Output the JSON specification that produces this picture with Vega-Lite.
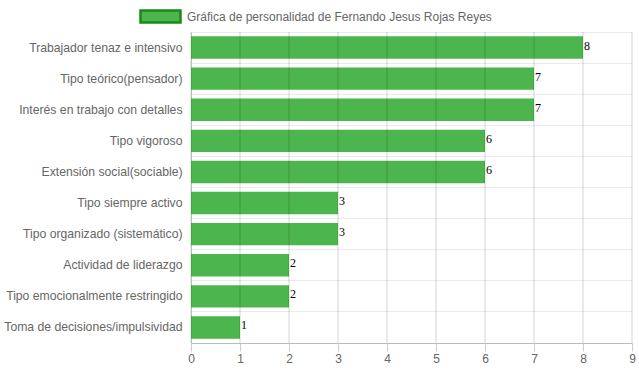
{
  "$schema": "https://vega.github.io/schema/vega-lite/v6.json",
  "width": 441,
  "height": 311,
  "autosize": "none",
  "padding": {"left": 191, "top": 32, "right": 7, "bottom": 29},
  "background": "white",
  "config": {"view": {"stroke": null}, "font": "Liberation Sans"},
  "data": {"values": [
    {"rasgo": "Trabajador tenaz e intensivo", "valor": 8},
    {"rasgo": "Tipo teórico(pensador)", "valor": 7},
    {"rasgo": "Interés en trabajo con detalles", "valor": 7},
    {"rasgo": "Tipo vigoroso", "valor": 6},
    {"rasgo": "Extensión social(sociable)", "valor": 6},
    {"rasgo": "Tipo siempre activo", "valor": 3},
    {"rasgo": "Tipo organizado (sistemático)", "valor": 3},
    {"rasgo": "Actividad de liderazgo", "valor": 2},
    {"rasgo": "Tipo emocionalmente restringido", "valor": 2},
    {"rasgo": "Toma de decisiones/impulsividad", "valor": 1}
  ]},
  "encoding": {
    "y": {"field": "rasgo", "type": "nominal", "sort": null,
      "scale": {"paddingInner": 0, "paddingOuter": 0},
      "axis": {"title": null, "labelColor": "#666", "labelFontSize": 12.2, "labelPadding": 9,
        "ticks": false, "domain": true, "domainColor": "#ccc", "grid": true, "gridColor": "#ebebeb", "bandPosition": 0, "labelLimit": 200}}
  },
  "layer": [
    {
      "mark": {"type": "bar", "color": "#4db54d", "height": {"band": 0.72}},
      "encoding": {
        "x": {"field": "valor", "type": "quantitative",
          "scale": {"domain": [0, 9], "nice": false},
          "axis": {"title": null, "values": [0,1,2,3,4,5,6,7,8,9], "labelOverlap": false, "labelFlush": false, "labelColor": "#666", "labelFontSize": 12,
            "grid": false, "domainColor": "#bbb", "tickColor": "#ccc", "tickSize": 8, "labelPadding": 2}},
        "color": {"datum": "Gráfica de personalidad de Fernando Jesus Rojas Reyes", "type": "nominal",
          "scale": {"range": ["#4db54d"]},
          "legend": {"title": null, "orient": "none", "legendX": -52, "legendY": -37,
            "symbolType": "M-1,-0.3H1V0.3H-1Z", "symbolSize": 1600, "symbolStrokeColor": "#178a17",
            "symbolStrokeWidth": 2.5, "symbolFillColor": "#4db54d", "symbolOpacity": 1,
            "labelFontSize": 12, "labelColor": "#666", "labelOffset": 5, "labelLimit": 400}}
      }
    },
    {
      "data": {"values": [{"v": 0},{"v": 1},{"v": 2},{"v": 3},{"v": 4},{"v": 5},{"v": 6},{"v": 7},{"v": 8},{"v": 9}]},
      "mark": {"type": "rule", "color": "#000", "opacity": 0.17, "strokeWidth": 1},
      "encoding": {"x": {"field": "v", "type": "quantitative"}, "y": null}
    },
    {
      "mark": {"type": "text", "align": "left", "baseline": "middle", "dx": 1, "dy": -2, "font": "Liberation Serif", "fontSize": 12, "color": "#000"},
      "encoding": {
        "x": {"field": "valor", "type": "quantitative"},
        "text": {"field": "valor", "type": "quantitative"}
      }
    }
  ]
}
